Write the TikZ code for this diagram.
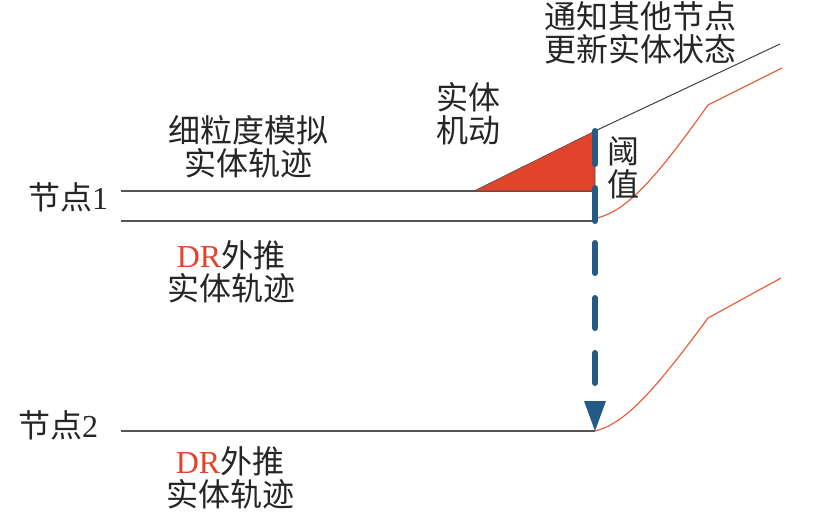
\documentclass[tikz,border=0pt]{standalone}
\usepackage{fontspec}
\setmainfont{Liberation Serif}
\newfontfamily\cjk{Noto Sans CJK SC}
\newfontfamily\latinserif{Liberation Serif}
\definecolor{dgray}{HTML}{555555}
\definecolor{tblue}{HTML}{245A86}
\definecolor{tred}{HTML}{E0452B}
\definecolor{lred}{HTML}{E8603C}
\begin{document}
\begin{tikzpicture}[x=1pt,y=-1pt,
  lbl/.style={inner sep=0pt,font=\cjk\fontsize{32}{33}\selectfont,align=center,text=black!85},
  track/.style={draw=dgray,line width=1.8pt},
  curve/.style={draw=lred,line width=1.2pt},
  bar/.style={draw=tblue,line width=6pt,line cap=round}]
\useasboundingbox (0,0) rectangle (821,514);
% coordinates
\coordinate (n1s) at (121,191);
\coordinate (n1e) at (595,191);
\coordinate (l1s) at (121,221);
\coordinate (l1e) at (595,221);
\coordinate (n2s) at (121,431);
\coordinate (n2e) at (595,431);
\coordinate (tA) at (474,191);
\coordinate (tB) at (595,131);
\coordinate (tend) at (780,44);
% tracks
\draw[track] (n1s) -- (n1e);
\draw[track] (l1s) -- (l1e);
\draw[track] (n2s) -- (n2e);
% triangle
\fill[tred,draw=black!70,line width=0.6pt] (tA) -- (tB) -- (n1e) -- cycle;
\draw[draw=black!75,line width=1pt] (tB) -- (tend);
% red curves
\draw[curve] (597,218) .. controls (625,211) and (652,184) .. (708,105) -- (782,68);
\draw[curve] (n2e) .. controls (623,424) and (650,397) .. (708,318) -- (781,278);
% threshold bar
\coordinate (b1) at (595,131);
\coordinate (b2) at (595,164);
\coordinate (b3) at (595,188);
\coordinate (b4) at (595,221);
\draw[bar] (b1) -- (b2);
\draw[bar] (b3) -- (b4);
% dashed arrow
\coordinate (d0) at (595,243);
\coordinate (d1) at (595,391);
\draw[tblue,line width=6pt,line cap=round,dash pattern=on 30pt off 25pt] (d0) -- (d1);
\fill[tblue] (584,401) -- (606,401) -- (n2e) -- cycle;
% labels
\node[lbl] (notify) at (640,33) {通知其他节点\\更新实体状态};
\node[lbl] (fine) at (248,147) {细粒度模拟\\实体轨迹};
\node[lbl] (move) at (468,114) {实体\\机动};
\node[lbl] (thr) at (623,168) {阈\\值};
\node[lbl,anchor=west] (node1) at (28,197) {节点{\latinserif 1}};
\node[lbl] (dr1) at (231,272) {{\latinserif\color{tred}DR}外推\\实体轨迹};
\node[lbl,anchor=west] (node2) at (18,425) {节点{\latinserif 2}};
\node[lbl] (dr2) at (230,478) {{\latinserif\color{tred}DR}外推\\实体轨迹};
\end{tikzpicture}
\end{document}
